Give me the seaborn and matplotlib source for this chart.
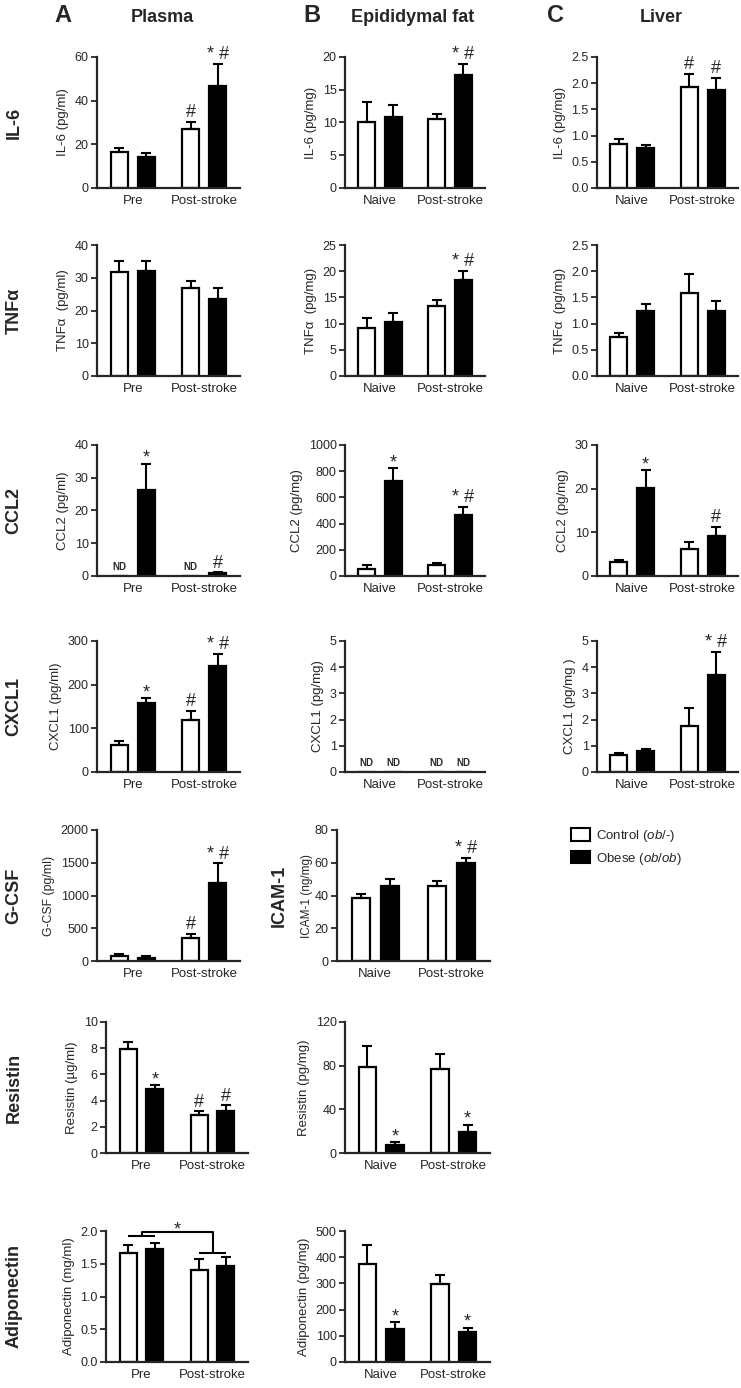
import numpy as np
import pandas as pd
import matplotlib
matplotlib.use("Agg")
import matplotlib.pyplot as plt
from matplotlib.patches import Patch
from matplotlib.ticker import FormatStrFormatter
import seaborn as sns

ND = np.nan  # not detected

groups = ["Control", "Obese"]
plasma_times = ["Pre", "Post-stroke"]
tissue_times = ["Naive", "Post-stroke"]

# all values: [control, obese] x [timepoint 1, timepoint 2]
il6_plasma = [[16.5, 27.0], [14.3, 46.5]]
il6_plasma_sem = [[2.0, 3.2], [1.7, 10.5]]
il6_plasma_sig = [["", "#"], ["", "* #"]]
il6_fat = [[10.1, 10.6], [10.8, 17.2]]
il6_fat_sem = [[3.0, 0.7], [1.9, 1.8]]
il6_fat_sig = [["", ""], ["", "* #"]]
il6_liver = [[0.84, 1.92], [0.77, 1.87]]
il6_liver_sem = [[0.09, 0.26], [0.05, 0.23]]
il6_liver_sig = [["", "#"], ["", "#"]]

tnf_plasma = [[31.9, 26.8], [32.2, 23.4]]
tnf_plasma_sem = [[3.1, 2.3], [2.8, 3.4]]
tnf_plasma_sig = [["", ""], ["", ""]]
tnf_fat = [[9.1, 13.4], [10.4, 18.4]]
tnf_fat_sem = [[1.9, 1.1], [1.6, 1.7]]
tnf_fat_sig = [["", ""], ["", "* #"]]
tnf_liver = [[0.74, 1.58], [1.25, 1.25]]
tnf_liver_sem = [[0.08, 0.37], [0.12, 0.19]]
tnf_liver_sig = [["", ""], ["", ""]]

ccl2_plasma = [[ND, ND], [26.2, 0.9]]
ccl2_plasma_sem = [[0, 0], [8.1, 0.2]]
ccl2_plasma_sig = [["", ""], ["*", "#"]]
ccl2_fat = [[52, 85], [722, 465]]
ccl2_fat_sem = [[35, 18], [103, 62]]
ccl2_fat_sig = [["", ""], ["*", "* #"]]
ccl2_liver = [[3.3, 6.2], [20.1, 9.2]]
ccl2_liver_sem = [[0.4, 1.7], [4.2, 2.1]]
ccl2_liver_sig = [["", ""], ["*", "#"]]

cxcl1_plasma = [[61, 120], [158, 243]]
cxcl1_plasma_sem = [[11, 19], [11, 28]]
cxcl1_plasma_sig = [["", "#"], ["*", "* #"]]
cxcl1_fat = [[ND, ND], [ND, ND]]
cxcl1_fat_sem = [[0, 0], [0, 0]]
cxcl1_fat_sig = [["", ""], ["", ""]]
cxcl1_liver = [[0.65, 1.74], [0.81, 3.72]]
cxcl1_liver_sem = [[0.06, 0.70], [0.06, 0.87]]
cxcl1_liver_sig = [["", ""], ["", "* #"]]

gcsf_plasma = [[71, 357], [51, 1190]]
gcsf_plasma_sem = [[30, 50], [20, 300]]
gcsf_plasma_sig = [["", "#"], ["", "* #"]]
icam1_fat = [[38.2, 46.1], [45.7, 59.8]]
icam1_fat_sem = [[2.7, 2.9], [4.5, 3.1]]
icam1_fat_sig = [["", ""], ["", "* #"]]

resistin_plasma = [[7.92, 2.92], [4.89, 3.2]]
resistin_plasma_sem = [[0.52, 0.25], [0.27, 0.43]]
resistin_plasma_sig = [["", "#"], ["*", "#"]]
resistin_fat = [[78.5, 77.0], [7.6, 19.6]]
resistin_fat_sem = [[19.5, 13.6], [2.7, 6.4]]
resistin_fat_sig = [["", ""], ["*", "*"]]

adipo_plasma = [[1.66, 1.40], [1.72, 1.47]]
adipo_plasma_sem = [[0.13, 0.17], [0.09, 0.14]]
adipo_plasma_sig = [["", ""], ["", ""]]
adipo_bracket_y = [1.92, 1.67, 1.99]  # pre bracket, post bracket, top line
adipo_fat = [[373, 296], [125, 115]]
adipo_fat_sem = [[73, 35], [28, 16]]
adipo_fat_sig = [["", ""], ["*", "*"]]

row_names = ["IL-6", "TNFα", "CCL2", "CXCL1", "G-CSF", "Resistin", "Adiponectin"]

# layout in pixels
W, H = 741, 1388
row_top = [57, 245, 445, 641, 830, 1022, 1231]
ax_h = 131

sns.set_theme(style="ticks")
plt.rcParams["font.family"] = ["Liberation Sans", "DejaVu Sans"]
plt.rcParams["mathtext.fontset"] = "custom"
plt.rcParams["mathtext.rm"] = "Liberation Sans"
plt.rcParams["mathtext.it"] = "Liberation Sans:italic"

fig = plt.figure(figsize=(W / 100, H / 100), dpi=100)


def make_ax(row, left, right):
    top = row_top[row]
    return fig.add_axes([left / W, 1 - (top + ax_h) / H, (right - left) / W, ax_h / H])


def bar_panel(ax, means, sems, sigs, times, ylabel, ymax, ystep, fmt="%d",
              ylsize=9.5, lpad=4):
    vals = np.array(means, dtype=float)
    nd = np.isnan(vals)
    df = pd.DataFrame({
        "time": times * 2,
        "group": np.repeat(groups, 2),
        "value": np.nan_to_num(vals).ravel(),
    })
    sns.barplot(data=df, x="time", y="value", hue="group", order=times,
                hue_order=groups, palette=["white", "black"], saturation=1,
                width=0.76, gap=0.37, edgecolor="black", linewidth=1.6,
                errorbar=None, legend=False, ax=ax)
    bars = sorted(ax.patches, key=lambda p: p.get_x())
    for k, bar in enumerate(bars):
        t, g = k // 2, k % 2
        xc = bar.get_x() + bar.get_width() / 2
        if nd[g, t]:
            ax.annotate("ND", (xc, 0), xytext=(0, 4), textcoords="offset points",
                        ha="center", va="baseline", fontsize=7, fontweight="bold")
            continue
        h = bar.get_height()
        e = sems[g][t]
        ax.errorbar(xc, h, yerr=[[0], [e]], fmt="none", ecolor="black",
                    elinewidth=1.5, capsize=3.5, capthick=1.5, zorder=3)
        s = sigs[g][t]
        if s:
            off = 0.5 if s == "*" else 3.5
            ax.annotate(s, (xc, h + e), xytext=(0, off), textcoords="offset points",
                        ha="center", va="baseline", fontsize=13, annotation_clip=False)
    ax.set_xlim(-0.5, 1.5)
    ax.set_ylim(0, ymax)
    ax.set_yticks(np.arange(0, ymax + ystep / 2, ystep))
    ax.yaxis.set_major_formatter(FormatStrFormatter(fmt))
    ax.set_xlabel("")
    ax.set_ylabel(ylabel, fontsize=ylsize, labelpad=lpad)
    sns.despine(ax=ax)
    for side in ["left", "bottom"]:
        ax.spines[side].set_linewidth(1.6)
    ax.tick_params(axis="y", length=4, width=1.3, labelsize=9, pad=2)
    ax.tick_params(axis="x", length=0, labelsize=9.5, pad=5)
    return bars


# panel positions (left, right) per row
colA = [(97, 240)] * 5 + [(106, 248)] * 2
colB = [(345, 485)] * 4 + [(337, 490)] + [(345, 490)] * 2
colC = [(597, 738)] * 4

ax = make_ax(0, *colA[0])
bar_panel(ax, il6_plasma, il6_plasma_sem, il6_plasma_sig, plasma_times, "IL-6 (pg/ml)", 60, 20)
ax = make_ax(0, *colB[0])
bar_panel(ax, il6_fat, il6_fat_sem, il6_fat_sig, tissue_times, "IL-6 (pg/mg)", 20, 5)
ax = make_ax(0, *colC[0])
bar_panel(ax, il6_liver, il6_liver_sem, il6_liver_sig, tissue_times, "IL-6 (pg/mg)", 2.5, 0.5, "%.1f")

ax = make_ax(1, *colA[1])
bar_panel(ax, tnf_plasma, tnf_plasma_sem, tnf_plasma_sig, plasma_times, "TNFα  (pg/ml)", 40, 10)
ax = make_ax(1, *colB[1])
bar_panel(ax, tnf_fat, tnf_fat_sem, tnf_fat_sig, tissue_times, "TNFα  (pg/mg)", 25, 5)
ax = make_ax(1, *colC[1])
bar_panel(ax, tnf_liver, tnf_liver_sem, tnf_liver_sig, tissue_times, "TNFα  (pg/mg)", 2.5, 0.5, "%.1f")

ax = make_ax(2, *colA[2])
bar_panel(ax, ccl2_plasma, ccl2_plasma_sem, ccl2_plasma_sig, plasma_times, "CCL2 (pg/ml)", 40, 10)
ax = make_ax(2, *colB[2])
bar_panel(ax, ccl2_fat, ccl2_fat_sem, ccl2_fat_sig, tissue_times, "CCL2 (pg/mg)", 1000, 200)
ax = make_ax(2, *colC[2])
bar_panel(ax, ccl2_liver, ccl2_liver_sem, ccl2_liver_sig, tissue_times, "CCL2 (pg/mg)", 30, 10)

ax = make_ax(3, *colA[3])
bar_panel(ax, cxcl1_plasma, cxcl1_plasma_sem, cxcl1_plasma_sig, plasma_times, "CXCL1 (pg/ml)", 300, 100)
ax = make_ax(3, *colB[3])
bar_panel(ax, cxcl1_fat, cxcl1_fat_sem, cxcl1_fat_sig, tissue_times, "CXCL1 (pg/mg)", 5, 1)
ax = make_ax(3, *colC[3])
bar_panel(ax, cxcl1_liver, cxcl1_liver_sem, cxcl1_liver_sig, tissue_times, "CXCL1 (pg/mg )", 5, 1)

ax = make_ax(4, *colA[4])
bar_panel(ax, gcsf_plasma, gcsf_plasma_sem, gcsf_plasma_sig, plasma_times, "G-CSF (pg/ml)", 2000, 500, ylsize=8.8)
ax = make_ax(4, *colB[4])
bar_panel(ax, icam1_fat, icam1_fat_sem, icam1_fat_sig, tissue_times, "ICAM-1 (ng/mg)", 80, 20,
          ylsize=8.5, lpad=1)

ax = make_ax(5, *colA[5])
bar_panel(ax, resistin_plasma, resistin_plasma_sem, resistin_plasma_sig, plasma_times, "Resistin (µg/ml)", 10, 2)
ax = make_ax(5, *colB[5])
bar_panel(ax, resistin_fat, resistin_fat_sem, resistin_fat_sig, tissue_times, "Resistin (pg/mg)", 120, 40)

ax = make_ax(6, *colA[6])
bars = bar_panel(ax, adipo_plasma, adipo_plasma_sem, adipo_plasma_sig, plasma_times, "Adiponectin (mg/ml)", 2.0, 0.5, "%.1f")
# bracket: main effect of stroke
cx = [b.get_x() + b.get_width() / 2 for b in bars]
y_pre, y_post, y_top = adipo_bracket_y
kw = dict(color="black", lw=1.5, clip_on=False, solid_capstyle="butt")
ax.plot([cx[0], cx[1]], [y_pre, y_pre], **kw)
ax.plot([cx[2], cx[3]], [y_post, y_post], **kw)
ax.plot([0, 0, 1, 1], [y_pre, y_top, y_top, y_post], **kw)
ax.annotate("*", (0.5, y_top), xytext=(0, -2), textcoords="offset points",
            ha="center", va="baseline", fontsize=13, annotation_clip=False)
ax = make_ax(6, *colB[6])
bar_panel(ax, adipo_fat, adipo_fat_sem, adipo_fat_sig, tissue_times, "Adiponectin (pg/mg)", 500, 100)


def ftext(x, y, s, **kw):
    fig.text(x / W, 1 - y / H, s, **kw)


# column headers
ftext(63, 16, "A", fontsize=17, fontweight="bold", ha="center", va="center")
ftext(162, 17, "Plasma", fontsize=13, fontweight="bold", ha="center", va="center")
ftext(312, 16, "B", fontsize=17, fontweight="bold", ha="center", va="center")
ftext(413, 17, "Epididymal fat", fontsize=13, fontweight="bold", ha="center", va="center")
ftext(556, 16, "C", fontsize=17, fontweight="bold", ha="center", va="center")
ftext(661, 17, "Liver", fontsize=13, fontweight="bold", ha="center", va="center")

# row labels
for i, name in enumerate(row_names):
    ftext(14, row_top[i] + ax_h / 2, name, fontsize=13, fontweight="bold",
          rotation=90, ha="center", va="center")
ftext(279, row_top[4] + ax_h / 2, "ICAM-1", fontsize=13, fontweight="bold",
      rotation=90, ha="center", va="center")

# legend
handles = [Patch(facecolor="white", edgecolor="black", linewidth=1.5),
           Patch(facecolor="black", edgecolor="black", linewidth=1.5)]
labels = [r"Control ($\mathit{ob/}$-)", r"Obese ($\mathit{ob/ob}$)"]
fig.legend(handles, labels, loc="upper left", bbox_to_anchor=(571 / W, 1 - 828 / H),
           frameon=False, fontsize=9.5, handlelength=1.45, handleheight=1.1,
           handletextpad=0.45, labelspacing=0.5, borderpad=0, borderaxespad=0)

fig.savefig("out.png", dpi=100, facecolor="white")
